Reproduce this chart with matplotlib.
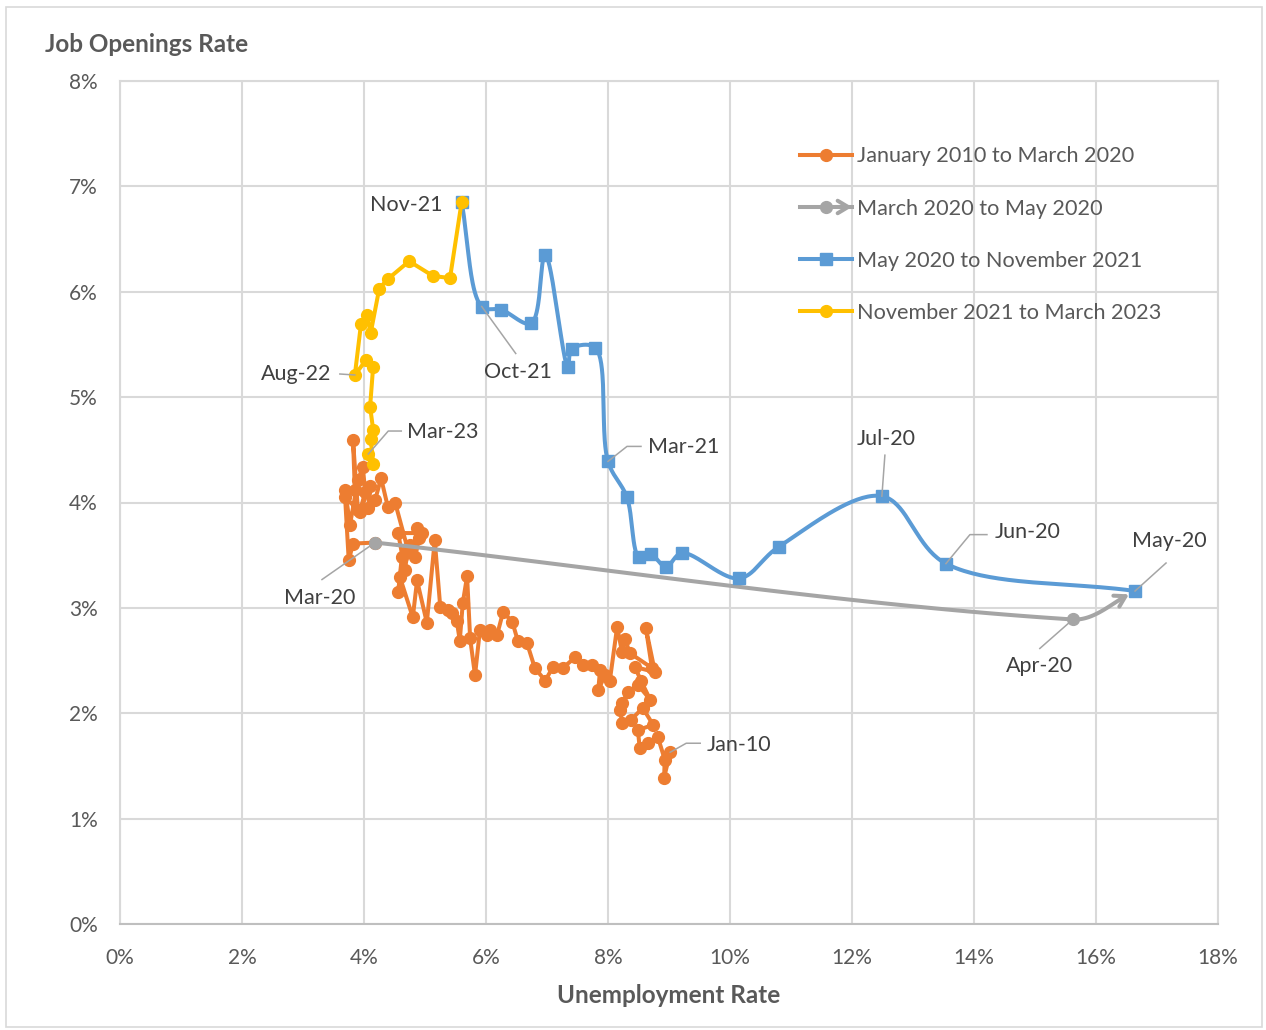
import numpy as np
import matplotlib
matplotlib.use("Agg")
import matplotlib.pyplot as plt
from matplotlib.lines import Line2D
from matplotlib.patches import FancyArrowPatch, Rectangle
from matplotlib.legend_handler import HandlerLine2D
from matplotlib.ticker import FuncFormatter

# ---------------------------------------------------------------------------
# Beveridge curve data (unemployment rate %, job openings rate %)
# ---------------------------------------------------------------------------
# January 2010 to March 2020
pre_unemp = [9.02, 8.92, 8.93, 8.82, 8.66, 8.52, 8.49, 8.74, 8.57, 8.38,
             8.23, 8.20, 8.23, 8.33, 8.49, 8.69, 8.54, 8.44, 8.77, 8.62,
             8.72, 8.36, 8.28, 8.23, 8.15, 8.03, 7.95, 7.84, 7.87, 7.74,
             7.59, 7.46, 7.26, 7.10, 6.97, 6.80, 6.67, 6.52, 6.43, 6.28,
             6.18, 6.07, 6.02, 5.90, 5.82, 5.74, 5.69, 5.62, 5.57, 5.52,
             5.44, 5.38, 5.25, 5.16, 5.03, 4.87, 4.80, 4.59, 4.56, 4.62,
             4.75, 4.84, 4.90, 4.87, 4.95, 4.56, 4.67, 4.72, 4.51, 4.39,
             4.28, 4.18, 4.07, 4.10, 3.93, 4.02, 3.98, 3.90, 3.77, 3.69,
             3.85, 3.82, 3.90, 3.69, 3.75, 3.82, 4.18]
pre_jobs = [1.63, 1.39, 1.56, 1.77, 1.72, 1.67, 1.84, 1.89, 2.05, 1.94,
            1.91, 2.03, 2.10, 2.20, 2.27, 2.13, 2.31, 2.44, 2.39, 2.81,
            2.43, 2.57, 2.70, 2.58, 2.82, 2.31, 2.36, 2.22, 2.41, 2.46,
            2.46, 2.53, 2.43, 2.44, 2.31, 2.43, 2.67, 2.69, 2.87, 2.96,
            2.74, 2.79, 2.74, 2.79, 2.36, 2.71, 3.30, 3.05, 2.69, 2.88,
            2.95, 2.98, 3.01, 3.64, 2.86, 3.26, 2.91, 3.29, 3.15, 3.48,
            3.60, 3.48, 3.66, 3.76, 3.71, 3.71, 3.36, 3.55, 4.00, 3.96,
            4.23, 4.02, 3.95, 4.16, 3.91, 4.10, 4.34, 4.21, 3.79, 4.12,
            4.12, 4.59, 3.93, 4.05, 3.45, 3.61, 3.62]

# March 2020 to May 2020
shock_months = ["Mar-20", "Apr-20", "May-20"]
shock_unemp = [4.18, 15.62, 16.64]
shock_jobs = [3.62, 2.89, 3.16]

# May 2020 to November 2021
rec_months = ["May-20", "Jun-20", "Jul-20", "Aug-20", "Sep-20", "Oct-20",
              "Nov-20", "Dec-20", "Jan-21", "Feb-21", "Mar-21", "Apr-21",
              "May-21", "Jun-21", "Jul-21", "Aug-21", "Sep-21", "Oct-21",
              "Nov-21"]
rec_unemp = [16.64, 13.54, 12.49, 10.80, 10.15, 9.21, 8.95, 8.70, 8.51,
             8.31, 8.00, 7.79, 7.41, 7.34, 6.97, 6.74, 6.25, 5.93, 5.60]
rec_jobs = [3.16, 3.42, 4.06, 3.58, 3.28, 3.52, 3.39, 3.51, 3.48, 4.05,
            4.39, 5.47, 5.46, 5.29, 6.35, 5.70, 5.83, 5.86, 6.85]

# November 2021 to March 2023
post_months = ["Nov-21", "Dec-21", "Jan-22", "Feb-22", "Mar-22", "Apr-22",
               "May-22", "Jun-22", "Jul-22", "Aug-22", "Sep-22", "Oct-22",
               "Nov-22", "Dec-22", "Jan-23", "Feb-23", "Mar-23"]
post_unemp = [5.60, 5.41, 5.13, 4.74, 4.39, 4.25, 4.11, 4.05, 3.95, 3.85,
              4.03, 4.15, 4.10, 4.15, 4.11, 4.15, 4.07]
post_jobs = [6.85, 6.13, 6.15, 6.29, 6.12, 6.03, 5.61, 5.78, 5.69, 5.21,
             5.35, 5.29, 4.91, 4.69, 4.60, 4.37, 4.46]

series_labels = ["January 2010 to March 2020", "March 2020 to May 2020",
                 "May 2020 to November 2021", "November 2021 to March 2023"]

x_ticks = list(range(0, 19, 2))
y_ticks = list(range(0, 9, 1))

ORANGE = "#ED7D31"
GRAY = "#A5A5A5"
BLUE = "#5B9BD5"
YELLOW = "#FFC000"
TEXT = "#595959"
LABEL = "#404040"
GRID = "#D9D9D9"

FONT = "Lato"

W, H, DPI = 1266, 1030, 100
fig = plt.figure(figsize=(W / DPI, H / DPI), dpi=DPI)
fig.patch.set_facecolor("white")
ax = fig.add_axes([120 / W, 1 - 924 / H, 1098 / W, 843 / H])
ax.set_xlim(0, 18)
ax.set_ylim(0, 8)

# pixel scale used for smoothing in screen space
SX = 1098 / 18.0
SY = 843 / 8.0


def smooth_centripetal(xs, ys, n=40, alpha=0.5):
    """Centripetal Catmull-Rom spline through the points, as Bezier segments."""
    P = np.column_stack([np.asarray(xs) * SX, np.asarray(ys) * SY])
    P = np.vstack([2 * P[0] - P[1], P, 2 * P[-1] - P[-2]])
    out = []
    t = np.linspace(0, 1, n, endpoint=False)[:, None]
    for i in range(1, len(P) - 2):
        p0, p1, p2, p3 = P[i - 1], P[i], P[i + 1], P[i + 2]
        d1 = max(np.linalg.norm(p1 - p0) ** alpha, 1e-6)
        d2 = max(np.linalg.norm(p2 - p1) ** alpha, 1e-6)
        d3 = max(np.linalg.norm(p3 - p2) ** alpha, 1e-6)
        c1 = (d1 ** 2 * p2 - d2 ** 2 * p0 + (2 * d1 ** 2 + 3 * d1 * d2 + d2 ** 2) * p1) / (3 * d1 * (d1 + d2))
        c2 = (d3 ** 2 * p1 - d2 ** 2 * p3 + (2 * d3 ** 2 + 3 * d3 * d2 + d2 ** 2) * p2) / (3 * d3 * (d3 + d2))
        seg = (1 - t) ** 3 * p1 + 3 * (1 - t) ** 2 * t * c1 + 3 * (1 - t) * t ** 2 * c2 + t ** 3 * p2
        out.append(seg)
    out.append(P[-2][None, :])
    arr = np.vstack(out)
    return arr[:, 0] / SX, arr[:, 1] / SY


def smooth_proportional(xs, ys, n=60):
    """Bezier smoothing whose handles are shared in proportion to chord length."""
    P = np.column_stack([np.asarray(xs) * SX, np.asarray(ys) * SY])
    P = np.vstack([2 * P[0] - P[1], P, 2 * P[-1] - P[-2]])
    out = []
    t = np.linspace(0, 1, n, endpoint=False)[:, None]
    for i in range(1, len(P) - 2):
        p0, p1, p2, p3 = P[i - 1], P[i], P[i + 1], P[i + 2]
        a = np.linalg.norm(p1 - p0)
        b = np.linalg.norm(p2 - p1)
        c = np.linalg.norm(p3 - p2)
        c1 = p1 + (p2 - p0) * (b / (a + b)) / 3
        c2 = p2 - (p3 - p1) * (b / (b + c)) / 3
        seg = (1 - t) ** 3 * p1 + 3 * (1 - t) ** 2 * t * c1 + 3 * (1 - t) * t ** 2 * c2 + t ** 3 * p2
        out.append(seg)
    out.append(P[-2][None, :])
    arr = np.vstack(out)
    return arr[:, 0] / SX, arr[:, 1] / SY


LW = 2.9
MS = 8.5

# Jan 2010 - Mar 2020: straight segments with round markers
ax.plot(pre_unemp, pre_jobs, color=ORANGE, lw=LW, marker="o", ms=MS,
        mfc=ORANGE, mec=ORANGE, zorder=3)

# Mar 2020 - May 2020: smoothed with an arrow at the end
gx, gy = smooth_proportional(shock_unemp, shock_jobs)
cut = len(gx) - 12
ax.plot(gx[:cut + 1], gy[:cut + 1], color=GRAY, lw=LW, zorder=4,
        solid_capstyle="butt")
ax.annotate("", xy=(gx[-1], gy[-1]), xytext=(gx[cut], gy[cut]),
            arrowprops=dict(arrowstyle="->,head_length=0.75,head_width=0.45",
                            color=GRAY, lw=LW, shrinkA=0, shrinkB=5),
            zorder=4)
ax.plot(shock_unemp[:2], shock_jobs[:2], ls="none", marker="o", ms=MS,
        mfc=GRAY, mec=GRAY, zorder=4)

# May 2020 - Nov 2021: smoothed with square markers
bx, by = smooth_centripetal(rec_unemp, rec_jobs)
ax.plot(bx, by, color=BLUE, lw=LW, zorder=5)
ax.plot(rec_unemp, rec_jobs, ls="none", marker="s", ms=MS - 0.5,
        mfc=BLUE, mec=BLUE, zorder=5)

# Nov 2021 - Mar 2023
ax.plot(post_unemp, post_jobs, color=YELLOW, lw=LW, marker="o", ms=MS,
        mfc=YELLOW, mec=YELLOW, zorder=6)

# axes styling
ax.set_xticks(x_ticks)
ax.set_yticks(y_ticks)
pct = FuncFormatter(lambda v, _: f"{v:.0f}%")
ax.xaxis.set_major_formatter(pct)
ax.yaxis.set_major_formatter(pct)
ax.tick_params(axis="both", length=0, labelsize=15, labelcolor=TEXT)
ax.tick_params(axis="x", pad=17)
ax.tick_params(axis="y", pad=16)
for lab in ax.get_xticklabels() + ax.get_yticklabels():
    lab.set_fontfamily(FONT)
ax.grid(True, color=GRID, lw=1.5, zorder=0)
ax.set_axisbelow(True)
for s in ax.spines.values():
    s.set_color(GRID)
    s.set_linewidth(1.5)
ax.spines["bottom"].set_color("#BFBFBF")

ax.set_xlabel("Unemployment Rate", fontsize=17.5, fontweight="bold",
              color=TEXT, family=FONT, labelpad=12)
fig.text(45 / W, 1 - 45 / H, "Job Openings Rate", fontsize=17.5,
         fontweight="bold", color=TEXT, family=FONT, ha="left", va="center")


# point labels with leader lines (offsets in pixels; y grows downward)
def point_label(pt, text, dx, dy, ha="center", leader=None):
    px, py = ax.transData.transform(pt)
    ax.annotate(text, xy=pt, xytext=(dx, -dy), textcoords="offset pixels",
                ha=ha, va="center", fontsize=15.5, color=LABEL, family=FONT,
                zorder=8)
    if leader:
        xs = [px] + [px + a for a, _ in leader]
        ys = [py] + [py - b for _, b in leader]
        fig.add_artist(Line2D(xs, ys, transform=None, color=GRAY, lw=1.1,
                              zorder=7))


rec = dict(zip(rec_months, zip(rec_unemp, rec_jobs)))
post = dict(zip(post_months, zip(post_unemp, post_jobs)))
shock = dict(zip(shock_months, zip(shock_unemp, shock_jobs)))

point_label(post["Nov-21"], "Nov-21", -19, 3, ha="right")
point_label(rec["Oct-21"], "Oct-21", 36, 65, leader=[(34, 47)])
point_label(post["Aug-22"], "Aug-22", -24, -1, ha="right", leader=[(-15, -1)])
point_label(post["Mar-23"], "Mar-23", 39, -22, ha="left",
            leader=[(20, -23), (33, -23)])
point_label(rec["Mar-21"], "Mar-21", 40, -14, ha="left",
            leader=[(19, -15), (33, -15)])
point_label(rec["Jul-20"], "Jul-20", 4, -57, leader=[(3, -41)])
point_label(rec["Jun-20"], "Jun-20", 49, -32, ha="left",
            leader=[(24, -29), (41, -29)])
point_label(rec["May-20"], "May-20", 34, -50, leader=[(31, -28)])
point_label(shock["Apr-20"], "Apr-20", -33, 47, leader=[(-33, 29)])
point_label(shock["Mar-20"], "Mar-20", -55, 55, leader=[(-53, 37)])
point_label((pre_unemp[0], pre_jobs[0]), "Jan-10", 36, -7, ha="left",
            leader=[(16, -9), (30, -9)])


# legend
class HandlerArrowLine(HandlerLine2D):
    def create_artists(self, legend, orig_handle, xdescent, ydescent,
                       width, height, fontsize, trans):
        artists = super().create_artists(legend, orig_handle, xdescent,
                                         ydescent, width, height, fontsize,
                                         trans)
        y = (height - ydescent) / 2
        x1 = -xdescent + width
        arrow = FancyArrowPatch((x1 - 12, y), (x1, y),
                                arrowstyle="->,head_length=0.75,head_width=0.45",
                                color=GRAY, lw=LW, mutation_scale=10,
                                shrinkA=0, shrinkB=0, transform=trans)
        return artists + [arrow]


handles = [
    Line2D([], [], color=ORANGE, lw=LW, marker="o", ms=MS),
    Line2D([], [], color=GRAY, lw=LW, marker="o", ms=MS),
    Line2D([], [], color=BLUE, lw=LW, marker="s", ms=MS - 0.5),
    Line2D([], [], color=YELLOW, lw=LW, marker="o", ms=MS),
]
fs = 15.6
fs_px = fs * DPI / 72
leg = ax.legend(handles, series_labels, loc="upper left",
                bbox_to_anchor=(800 / W, 1 - 146.5 / H),
                bbox_transform=fig.transFigure, frameon=False,
                handlelength=52 / fs_px, handletextpad=5 / fs_px,
                labelspacing=1.48, borderpad=0, borderaxespad=0,
                prop=dict(family=FONT, size=fs),
                handler_map={handles[1]: HandlerArrowLine()})
for t in leg.get_texts():
    t.set_color(TEXT)

# outer chart border
fig.add_artist(Rectangle((6 / W, 3 / H), 1256 / W, 1020 / H,
                         transform=fig.transFigure, fill=False,
                         edgecolor=GRID, lw=1.2))

fig.savefig("out.png", dpi=DPI, facecolor="white")
